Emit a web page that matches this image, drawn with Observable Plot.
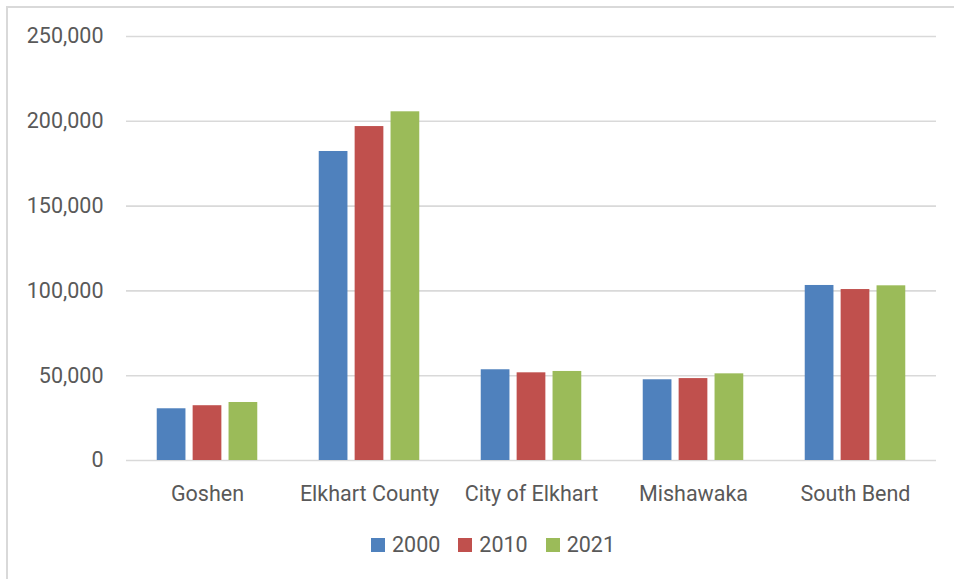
<!DOCTYPE html>
<html>
<head>
<meta charset="utf-8">
<script src="https://cdn.jsdelivr.net/npm/d3@7"></script>
<script src="https://cdn.jsdelivr.net/npm/@observablehq/plot@0.6"></script>
<style>
  html, body { margin: 0; padding: 0; background: white; }
  body { position: relative; width: 954px; height: 579px; overflow: hidden; font-family: Roboto, sans-serif; }
  #frame { position: absolute; left: 6px; top: 6px; width: 1000px; height: 700px;
           border-left: 2px solid #d9d9d9; border-top: 2px solid #d9d9d9; }
  #chart { position: relative; }
  .lg-swatch { margin-right: 18px !important; }
  .lg-swatch > svg { margin-right: 7px !important; }
</style>
</head>
<body>
<div id="frame"></div>
<div id="chart"></div>
<script>
const categories = ["Goshen", "Elkhart County", "City of Elkhart", "Mishawaka", "South Bend"];
const years = ["2000", "2010", "2021"];
const pop2000 = [30500, 182200, 53500, 47600, 103200];
const pop2010 = [32300, 196900, 51700, 48300, 100800];
const pop2021 = [34200, 205600, 52500, 51100, 103000];
const yTicks = [0, 50000, 100000, 150000, 200000, 250000];
const colors = ["#4f81bd", "#c0504d", "#9bbb59"];

const series = [pop2000, pop2010, pop2021];
const data = [];
categories.forEach((c, i) => {
  years.forEach((y, j) => data.push({city: c, year: y, value: series[j][i]}));
});

const textColor = "#595959";
const fmt = d3.format(",.0f");

const plot = Plot.plot({
  width: 954,
  height: 520,
  marginLeft: 125,
  marginRight: 17,
  marginTop: 36,
  marginBottom: 60,
  style: {background: "transparent", fontFamily: "Roboto, sans-serif", fontSize: "21.5px", color: textColor},
  fx: {domain: categories, padding: 0, label: null, tickSize: 0, tickPadding: 25},
  x: {domain: years, paddingInner: 0.2, paddingOuter: 0.856, round: false, axis: null},
  y: {domain: [0, 250000], ticks: yTicks, tickFormat: d => fmt(d), tickSize: 0, tickPadding: 23, label: null},
  color: {domain: years, range: colors},
  marks: [
    Plot.ruleY(yTicks, {stroke: "#d9d9d9", strokeWidth: 1.6}),
    Plot.barY(data, {fx: "city", x: "year", y: "value", fill: "year"})
  ]
});
document.getElementById("chart").appendChild(plot);

const legend = Plot.legend({
  color: {domain: years, range: colors},
  swatchWidth: 14,
  swatchHeight: 14,
  className: "lg",
  style: {fontFamily: "Roboto, sans-serif", fontSize: "21.5px", color: textColor, marginLeft: "371px", marginTop: "8px", background: "transparent"}
});
document.getElementById("chart").appendChild(legend);
</script>
</body>
</html>
